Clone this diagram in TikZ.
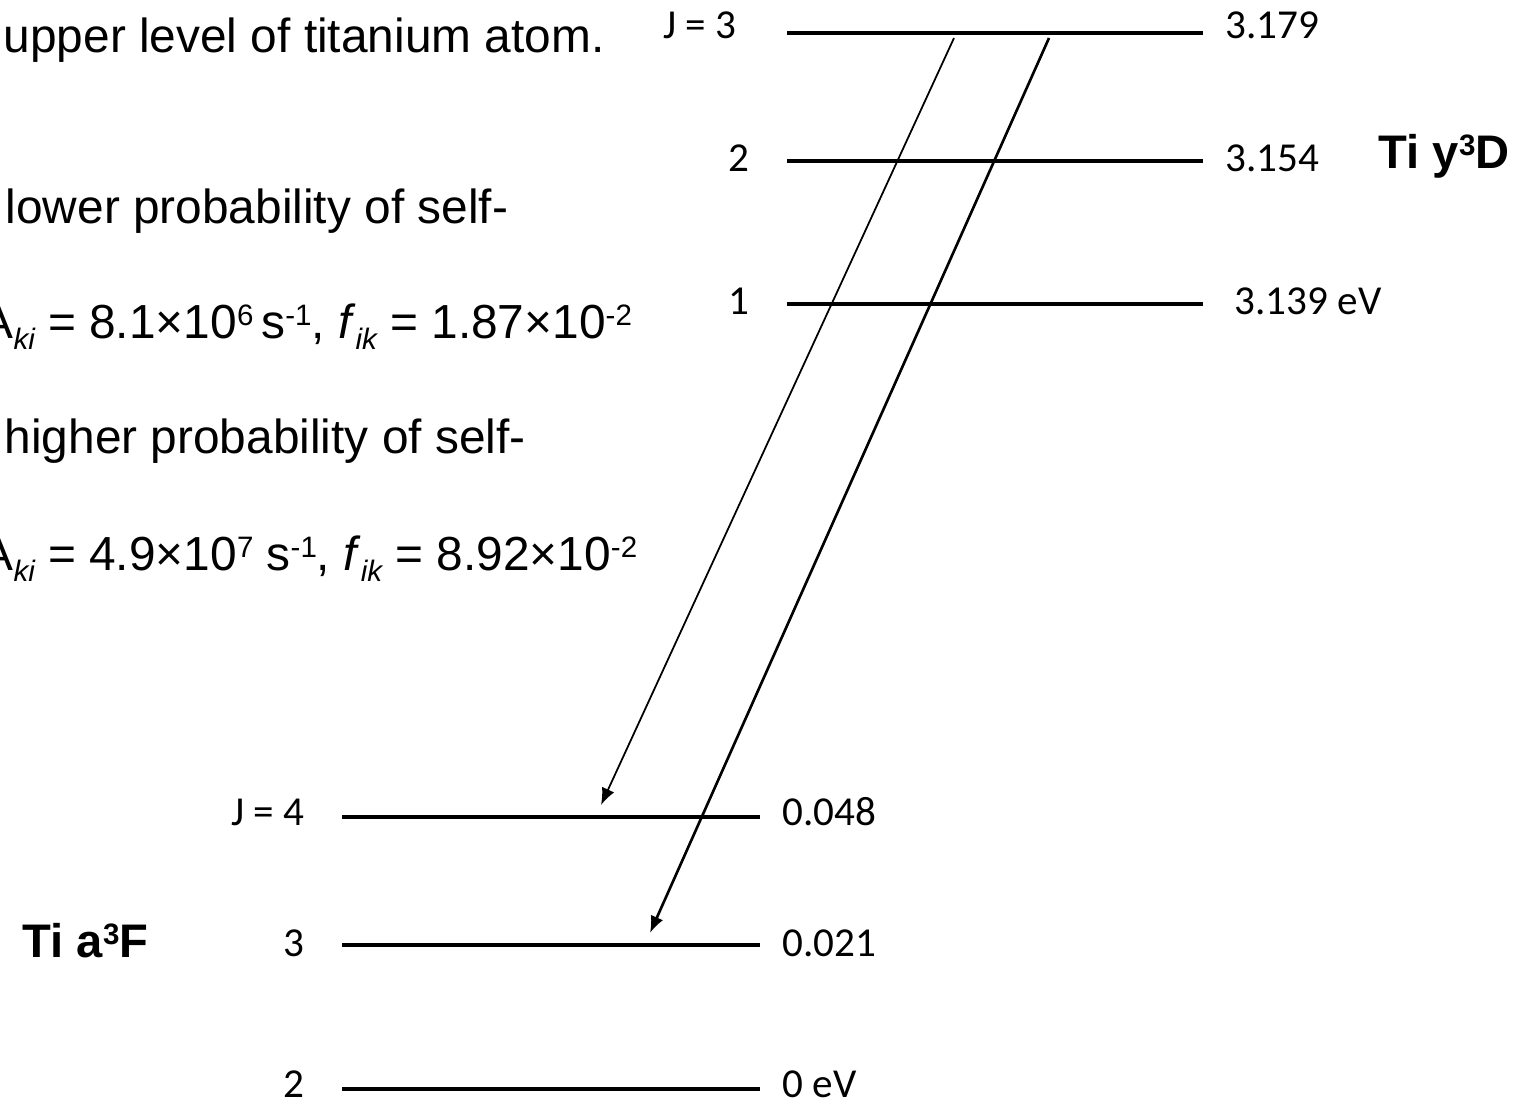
\documentclass[tikz,border=0pt]{standalone}
\usepackage{fontspec}
\setmainfont{Liberation Sans}
\newfontfamily\lblfont{Carlito}
\usetikzlibrary{arrows.meta,positioning}
\newcommand{\upidx}[1]{\raisebox{0.27em}{\fontsize{8.4}{10}\selectfont #1}}
\newcommand{\lowidx}[1]{\raisebox{-0.25em}{\fontsize{8.4}{10}\selectfont\itshape #1}}

\begin{document}
\begin{tikzpicture}[x=0.01cm,y=-0.01cm,
  lvl/.style={line width=0.9pt},
  jlab/.style={font=\lblfont\fontsize{11.7}{13}\selectfont,inner sep=0pt,anchor=base east},
  elab/.style={font=\lblfont\fontsize{11.7}{13}\selectfont,inner sep=0pt,anchor=base west},
  body/.style={font=\fontsize{13.6}{16}\selectfont,inner sep=0pt,anchor=base west},
  term/.style={font=\bfseries\fontsize{13.4}{16}\selectfont,inner sep=0pt,anchor=base west},
  trans/.style={-{Latex[length=4.8pt,width=3.8pt]}}]
  \useasboundingbox (0,0) rectangle (1527,1103);
  \clip (0,0) rectangle (1527,1103);
  % text on the left
  \node[body] (t1) at (3,52) {upper level of titanium atom.};
  \node[body] (t2) at (5,223) {lower probability of self-};
  \node[body] (t3) at (-19,338) {A\lowidx{ki} = 8.1×10\upidx{6}\,s\upidx{-1}, \textit{f}\lowidx{ik} = 1.87×10\upidx{-2}};
  \node[body] (t4) at (4,453) {higher probability of self-};
  \node[body] (t5) at (-19,570) {A\lowidx{ki} = 4.9×10\upidx{7} s\upidx{-1}, \textit{f}\lowidx{ik} = 8.92×10\upidx{-2}};
  % Ti y3D
  \foreach \n/\y/\b/\jx/\j/\ex/\e in {u3/33/38/737/{J = 3}/1225/3.179, u2/161/171/750/2/1225/3.154, u1/304/314/750/1/1234/{3.139 eV}} {
    \coordinate (\n w) at (787,\y);
    \coordinate (\n e) at (1203,\y);
    \draw[lvl] (\n w) -- (\n e);
    \node[elab] (\n v) at (\ex,\b) {\e};
    \node[jlab] (\n j) at (\jx,\b) {\j};
  }
  \node[term] (yD) at (1378,168) {Ti y\upidx{3}D};
  % Ti a3F
  \foreach \n/\y/\b/\j/\e in {l4/817/825/{J = 4}/0.048, l3/945/956/3/0.021, l2/1089/1097/2/{0 eV}} {
    \coordinate (\n w) at (342,\y);
    \coordinate (\n e) at (760,\y);
    \draw[lvl] (\n w) -- (\n e);
    \node[elab] (\n v) at (782,\b) {\e};
    \node[jlab] (\n j) at (305,\b) {\j};
  }
  \node[term] (aF) at (22,957) {Ti a\upidx{3}F};
  % transitions
  \coordinate (s1) at (954,38);
  \coordinate (f1) at (601,805);
  \coordinate (s2) at (1049,38);
  \coordinate (f2) at (650,933);
  \draw[trans,line width=0.5pt] (s1) -- (f1);
  \draw[trans,line width=0.75pt] (s2) -- (f2);
\end{tikzpicture}
\end{document}
